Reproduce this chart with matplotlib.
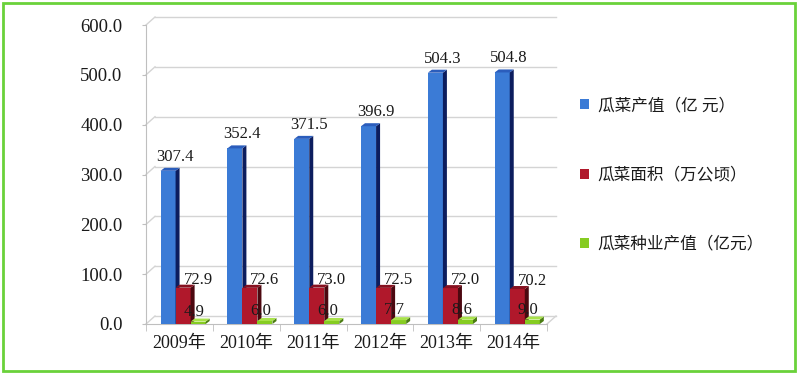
import numpy as np
import matplotlib
matplotlib.use('Agg')
import matplotlib.pyplot as plt
from matplotlib.patches import Polygon, Rectangle

# 数据
years = ['2009年', '2010年', '2011年', '2012年', '2013年', '2014年']
output_value = [307.4, 352.4, 371.5, 396.9, 504.3, 504.8]   # 瓜菜产值（亿 元）
area = [72.9, 72.6, 73.0, 72.5, 72.0, 70.2]                   # 瓜菜面积（万公顷）
seed_value = [4.9, 6.0, 6.0, 7.7, 8.6, 9.0]                   # 瓜菜种业产值（亿元）
series_names = ['瓜菜产值（亿 元）', '瓜菜面积（万公顷）', '瓜菜种业产值（亿元）']
yticks = [0, 100, 200, 300, 400, 500, 600]

plt.rcParams['font.family'] = ['Liberation Serif', 'Noto Sans CJK SC']

W, H = 800, 373
fig = plt.figure(figsize=(W / 100, H / 100), dpi=100)
ax = fig.add_axes([146 / W, 49 / H, 401 / W, 299 / H])
ax.set_xlim(-0.5, len(years) - 0.5)
ax.set_ylim(0, 600)

# pixel -> data unit conversion (for the fake 3D look)
px_x = 401 / len(years)
px_y = 299 / 600.0

# back wall offset
wx, wy = 9 / px_x, 8 / px_y
grid_c = '#d4d4d4'
for t in yticks:
    ax.plot([-0.5 + wx, 5.5 + wx], [t + wy, t + wy], color=grid_c, lw=1, zorder=0, clip_on=False)
    ax.plot([-0.5, -0.5 + wx], [t, t + wy], color=grid_c, lw=1, zorder=0, clip_on=False)
ax.plot([5.5, 5.5 + wx], [0, wy], color=grid_c, lw=1, zorder=0, clip_on=False)

# bars
w = 0.225
dx, dy = 4 / px_x, 3 / px_y
offsets = [-0.17, 0.055, 0.28]
fronts = ['#3b7bd6', '#b0182b', '#86cc22']
sides = ['#0c1d5e', '#4c0810', '#4b7d12']
tops = ['#2b5dbc', '#861120', '#a8e24a']
lab_dx = [7, 15, -4]       # px
lab_gap = [10, 4, 6]       # px above bar top
all_vals = [output_value, area, seed_value]

handles = []
x0 = np.arange(len(years))
for i, vals in enumerate(all_vals):
    xs = x0 + offsets[i]
    z = 3 + i * 3
    b = ax.bar(xs, vals, width=w, color=fronts[i], zorder=z, label=series_names[i])
    handles.append(b)
    for xi, h in zip(xs, vals):
        r = xi + w / 2
        l = xi - w / 2
        ax.add_patch(Polygon([(r, 0), (r + dx, dy), (r + dx, h + dy), (r, h)],
                             closed=True, facecolor=sides[i], edgecolor='none', zorder=z + 1))
        ax.add_patch(Polygon([(l, h), (r, h), (r + dx, h + dy), (l + dx, h + dy)],
                             closed=True, facecolor=tops[i], edgecolor='none', zorder=z + 1))
        ax.text(xi + lab_dx[i] / px_x, h + lab_gap[i] / px_y, f'{h:.1f}',
                ha='center', va='baseline', fontsize=12, color='#1a1a1a', zorder=20)

# axes styling
for s in ['top', 'right']:
    ax.spines[s].set_visible(False)
ax.spines['left'].set_color('#bfbfbf')
ax.spines['bottom'].set_color('#bfbfbf')
ax.set_yticks(yticks)
ax.set_yticklabels([f'{t:.1f}' for t in yticks], fontsize=13.5, color='#1a1a1a')
ax.tick_params(axis='y', length=3, color='#bfbfbf', pad=14)
ax.set_xticks(x0)
ax.set_xticklabels(years, fontsize=13, color='#1a1a1a')
ax.set_xticks(np.arange(-0.5, len(years)), minor=True)
ax.tick_params(axis='x', which='major', length=0, pad=8)
ax.tick_params(axis='x', which='minor', length=5, color='#bfbfbf')

leg = fig.legend(handles=handles, labels=series_names, loc='center left',
                 bbox_to_anchor=(580 / W, 1 - 175.5 / H), frameon=False, fontsize=12,
                 handlelength=0.55, handleheight=0.55, handletextpad=0.5,
                 labelspacing=3.2, borderpad=0, borderaxespad=0)
for t in leg.get_texts():
    t.set_color('#1a1a1a')

# green frame around the picture
fig.patches.append(Rectangle((3 / W, 2 / H), 792 / W, 368 / H, transform=fig.transFigure,
                             fill=False, edgecolor='#6ad23a', lw=2))

fig.savefig('out.png', dpi=100)
